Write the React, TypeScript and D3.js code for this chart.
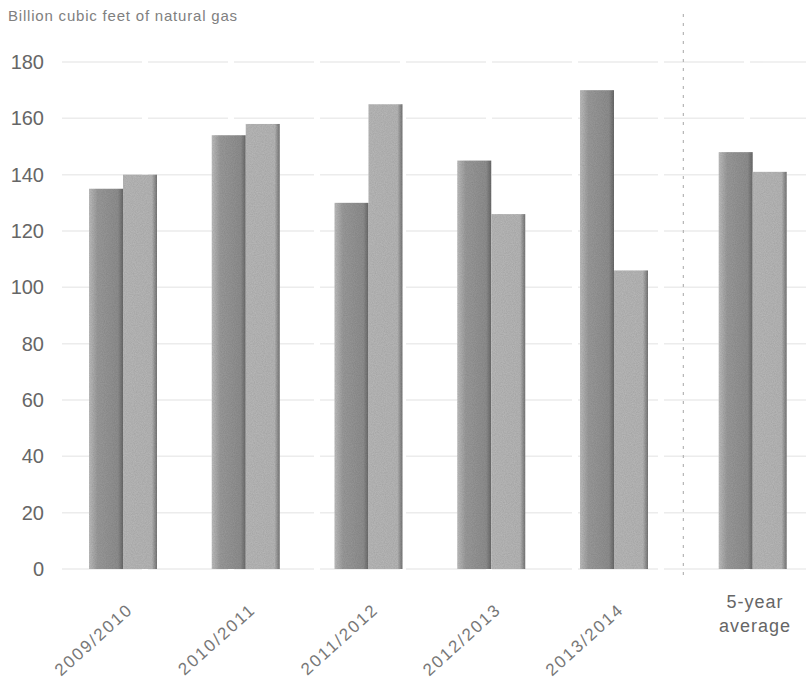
import React from "react";
import * as d3 from "d3";

const categories = ["2009/2010", "2010/2011", "2011/2012", "2012/2013", "2013/2014", "5-year average"];
const seriesDark = [135, 154, 130, 145, 170, 148];
const seriesLight = [140, 158, 165, 126, 106, 141];
const yTicks = [0, 20, 40, 60, 80, 100, 120, 140, 160, 180];
const yTitle = "Billion cubic feet of natural gas";

const W = 806;
const H = 687;

export default function App() {
  const y = d3.scaleLinear().domain([0, 180]).range([569, 62]);
  // index-based position; the average group gets an extra gap
  const x = d3.scaleLinear().domain([0, 4]).range([123, 614]);
  const avgGap = 0.13;
  const cx = (i: number) => x(i < 5 ? i : i + avgGap);
  const barW = 34;
  const sepX = (cx(4) + cx(5)) / 2;

  return (
    <svg width={W} height={H} style={{ position: "absolute", left: 0, top: 0, background: "#fff" }}
      fontFamily="'Liberation Sans', Arial, sans-serif">
      <defs>
        <filter id="grain" x="0" y="0" width="100%" height="100%">
          <feTurbulence type="fractalNoise" baseFrequency="0.9" numOctaves="2" seed="3" result="n" />
          <feColorMatrix in="n" type="matrix"
            values="0 0 0 0 0.5  0 0 0 0 0.5  0 0 0 0 0.5  0 0 0 0.5 0" result="g" />
          <feComposite in="g" in2="SourceGraphic" operator="in" result="gc" />
          <feBlend in="SourceGraphic" in2="gc" mode="multiply" />
        </filter>
        <linearGradient id="gDark" x1="0" x2="1" y1="0" y2="0">
          <stop offset="0" stopColor="#c0c0c0" />
          <stop offset="0.25" stopColor="#9c9c9c" />
          <stop offset="0.85" stopColor="#909090" />
          <stop offset="1" stopColor="#6a6a6a" />
        </linearGradient>
        <linearGradient id="gLight" x1="0" x2="1" y1="0" y2="0">
          <stop offset="0" stopColor="#bababa" />
          <stop offset="0.85" stopColor="#b8b8b8" />
          <stop offset="1" stopColor="#777" />
        </linearGradient>
      </defs>

      <text x={8} y={21} fontSize={15} letterSpacing={0.8} fill="#808080">{yTitle}</text>

      {yTicks.map((t) => (
        <g key={t}>
          <line x1={62} x2={806} y1={y(t)} y2={y(t)} stroke="#ececec" strokeWidth={1.5} strokeDasharray="80,6" />
          <text x={44} y={y(t)} dy="0.35em" textAnchor="end" fontSize={20} fill="#666">{t}</text>
        </g>
      ))}

      <line x1={sepX} x2={sepX} y1={14} y2={575} stroke="#b5b5b5" strokeWidth={1.2} strokeDasharray="3,6" />

      {categories.map((c, i) => (
        <g key={c} filter="url(#grain)">
          <rect x={cx(i) - barW} y={y(seriesDark[i])} width={barW} height={y(0) - y(seriesDark[i])} fill="url(#gDark)" />
          <rect x={cx(i)} y={y(seriesLight[i])} width={barW} height={y(0) - y(seriesLight[i])} fill="url(#gLight)" />
        </g>
      ))}

      {categories.map((c, i) =>
        i < 5 ? (
          <text key={c} transform={`translate(${cx(i) + 11},${611}) rotate(-42)`} textAnchor="end"
            fontSize={17} letterSpacing={2} fill="#777">{c}</text>
        ) : (
          <text key={c} x={755} y={608} textAnchor="middle" fontSize={18} letterSpacing={1} fill="#666">
            <tspan x={755}>5-year</tspan>
            <tspan x={755} dy={24}>average</tspan>
          </text>
        )
      )}
    </svg>
  );
}
